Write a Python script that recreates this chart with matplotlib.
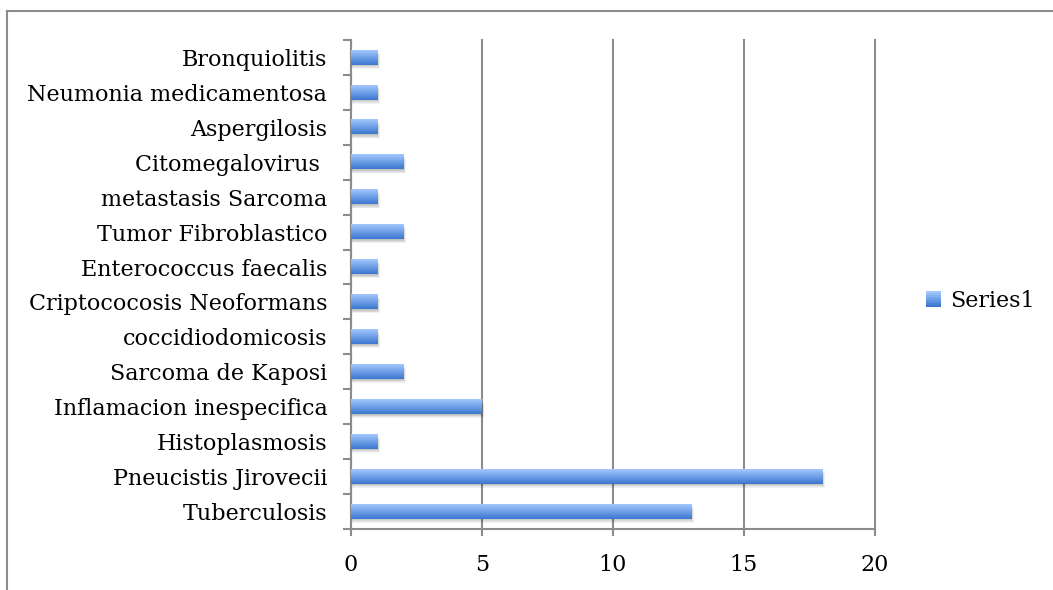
import numpy as np
import matplotlib.pyplot as plt
from matplotlib.patches import Rectangle
from matplotlib.legend_handler import HandlerBase
from matplotlib.lines import Line2D

# Diagnosticos (de abajo hacia arriba) y numero de casos
diagnosticos = ["Tuberculosis", "Pneucistis Jirovecii", "Histoplasmosis",
                "Inflamacion inespecifica", "Sarcoma de Kaposi", "coccidiodomicosis",
                "Criptococosis Neoformans", "Enterococcus faecalis", "Tumor Fibroblastico",
                "metastasis Sarcoma", "Citomegalovirus ", "Aspergilosis",
                "Neumonia medicamentosa", "Bronquiolitis"]
casos = [13, 18, 1, 5, 2, 1, 1, 1, 2, 1, 2, 1, 1, 1]
xticks = [0, 5, 10, 15, 20]
serie = "Series1"

plt.rcParams['font.family'] = ['DejaVu Serif']
plt.rcParams['font.size'] = 16

gris = "#8c8c8c"
azul_claro = np.array([0.64, 0.78, 1.0])
azul_oscuro = np.array([0.23, 0.47, 0.81])
alto = 0.41

fig = plt.figure(figsize=(10.53, 5.90), dpi=100)
ax = fig.add_axes([0.3333, 0.1034, 0.4974, 0.8288])

# degradado vertical para las barras (claro arriba, oscuro abajo)
t = np.linspace(0, 1, 64)[:, None]
grad = azul_oscuro * t[..., None] + azul_claro * (1 - t[..., None])
grad = np.repeat(grad, 2, axis=1)

px_x = 20 / 523.0
px_y = 14 / 489.0
for i, v in enumerate(casos):
    # sombra difusa
    for k in range(1, 6):
        ax.add_patch(Rectangle((0, i - alto / 2 - k * px_y * 0.8),
                               v + k * px_x * 0.5, alto,
                               facecolor="black", edgecolor="none",
                               alpha=0.05, zorder=2))
    ax.imshow(grad, extent=[0, v, i - alto / 2, i + alto / 2],
              aspect="auto", interpolation="bilinear", zorder=3)

ax.set_xlim(0, 20)
ax.set_ylim(-0.5, len(diagnosticos) - 0.5)
ax.set_aspect("auto")

ax.set_xticks(xticks)
ax.set_yticks(range(len(diagnosticos)))
ax.set_yticklabels(diagnosticos)
ax.set_yticks(np.arange(-0.5, len(diagnosticos)), minor=True)
ax.tick_params(axis="y", which="major", length=0, pad=17)
ax.tick_params(axis="y", which="minor", length=6, width=1.5, color=gris)
ax.tick_params(axis="x", which="major", length=5, width=1.5, color=gris, pad=13)

ax.grid(axis="x", color=gris, linewidth=1.5, zorder=1)
for gl in ax.get_xgridlines():
    gl.set_clip_on(False)
ax.set_axisbelow(True)
for s in ["top", "right"]:
    ax.spines[s].set_visible(False)
for s in ["left", "bottom"]:
    ax.spines[s].set_color(gris)
    ax.spines[s].set_linewidth(1.5)


class HandlerDegradado(HandlerBase):
    def create_artists(self, legend, orig_handle, xdescent, ydescent,
                       width, height, fontsize, trans):
        lado = height * 1.0
        x0 = xdescent + width - lado
        y0 = -ydescent + (height - lado) / 2
        n = 8
        artistas = []
        for j in range(n):
            c = azul_oscuro * (j / (n - 1)) + azul_claro * (1 - j / (n - 1))
            r = Rectangle((x0, y0 + lado * (n - 1 - j) / n), lado, lado / n,
                          facecolor=c, edgecolor="none", transform=trans)
            artistas.append(r)
        return artistas


leg = fig.legend([Rectangle((0, 0), 1, 1)], [serie], loc="center left",
                 bbox_to_anchor=(0.854, 0.49), frameon=False,
                 handler_map={Rectangle: HandlerDegradado()},
                 handlelength=1.0, handletextpad=0.4)

# marco exterior del grafico
fig.add_artist(Line2D([6.5 / 1053, 1052 / 1053], [1 - 11 / 590] * 2,
                      color=gris, linewidth=1.5, transform=fig.transFigure))
fig.add_artist(Line2D([6.5 / 1053] * 2, [1 - 11 / 590, 0],
                      color=gris, linewidth=1.5, transform=fig.transFigure))

fig.savefig("out.png", dpi=100)
